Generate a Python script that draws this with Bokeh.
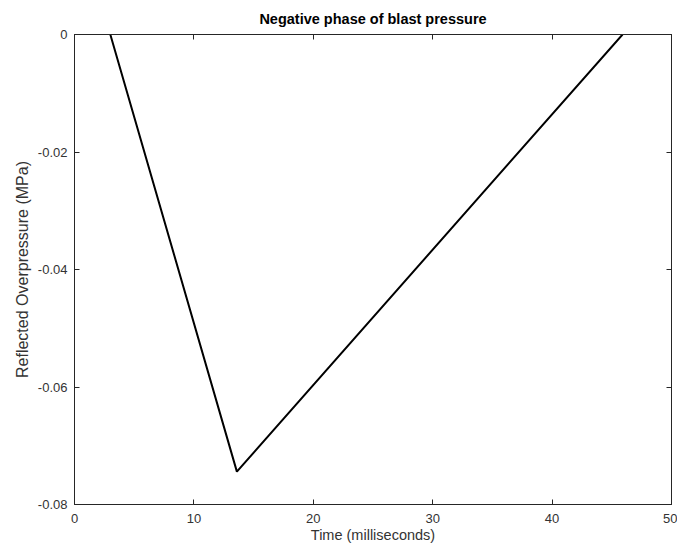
from bokeh.plotting import figure
from bokeh.models import Range1d, LinearAxis, FixedTicker, Title
from bokeh.embed import file_html
from bokeh.resources import INLINE

# Negative phase of a blast wave: linear decay to the minimum, then recovery
time_ms = [3.0, 13.6, 45.9]
pressure_mpa = [0.0, -0.0744, 0.0]

x_ticks = [0, 10, 20, 30, 40, 50]
y_ticks = [0, -0.02, -0.04, -0.06, -0.08]
y_tick_labels = {0: "0", -0.02: "-0.02", -0.04: "-0.04", -0.06: "-0.06", -0.08: "-0.08"}

FONT = "Liberation Sans"
AXIS_COLOR = "#262626"

p = figure(
    width=677, height=550,
    x_range=Range1d(0, 50), y_range=Range1d(-0.08, 0),
    output_backend="svg", toolbar_location=None,
    x_axis_location=None, y_axis_location=None,
    min_border_left=74, min_border_right=6, min_border_top=34, min_border_bottom=46,
)
p.grid.visible = False
p.background_fill_color = "white"
p.outline_line_color = AXIS_COLOR
p.outline_line_width = 1


def style_axis(ax, show_labels):
    ax.axis_line_color = AXIS_COLOR
    ax.major_tick_line_color = AXIS_COLOR
    ax.major_tick_in = 5
    ax.major_tick_out = 0
    ax.minor_tick_line_color = None
    ax.major_label_text_font = FONT
    ax.major_label_text_font_size = "13px"
    ax.major_label_text_color = "#333333"
    ax.axis_label_text_font = FONT
    ax.axis_label_text_font_size = "14.5px"
    ax.axis_label_text_font_style = "normal"
    ax.axis_label_text_color = "#333333"
    if not show_labels:
        ax.major_label_text_font_size = "0px"
        ax.major_label_text_color = None


xb = LinearAxis(ticker=FixedTicker(ticks=x_ticks), axis_label="Time (milliseconds)")
style_axis(xb, True)
xb.major_label_standoff = 9
xb.axis_label_standoff = 1
p.add_layout(xb, "below")

yl = LinearAxis(ticker=FixedTicker(ticks=y_ticks), axis_label="Reflected Overpressure (MPa)")
style_axis(yl, True)
yl.major_label_overrides = y_tick_labels
yl.major_label_standoff = 7
yl.axis_label_text_font_size = "16px"
yl.axis_label_standoff = 4
p.add_layout(yl, "left")

xt = LinearAxis(ticker=FixedTicker(ticks=x_ticks))
style_axis(xt, False)
p.add_layout(xt, "above")

yr = LinearAxis(ticker=FixedTicker(ticks=y_ticks))
style_axis(yr, False)
p.add_layout(yr, "right")

p.title = Title(
    text="Negative phase of blast pressure", align="center",
    text_font=FONT, text_font_size="14.5px", text_font_style="bold",
    text_color="#000000", offset=0, standoff=16,
)

p.line(time_ms, pressure_mpa, line_color="#000000", line_width=2)

open("out.html", "w").write(file_html(p, INLINE))
